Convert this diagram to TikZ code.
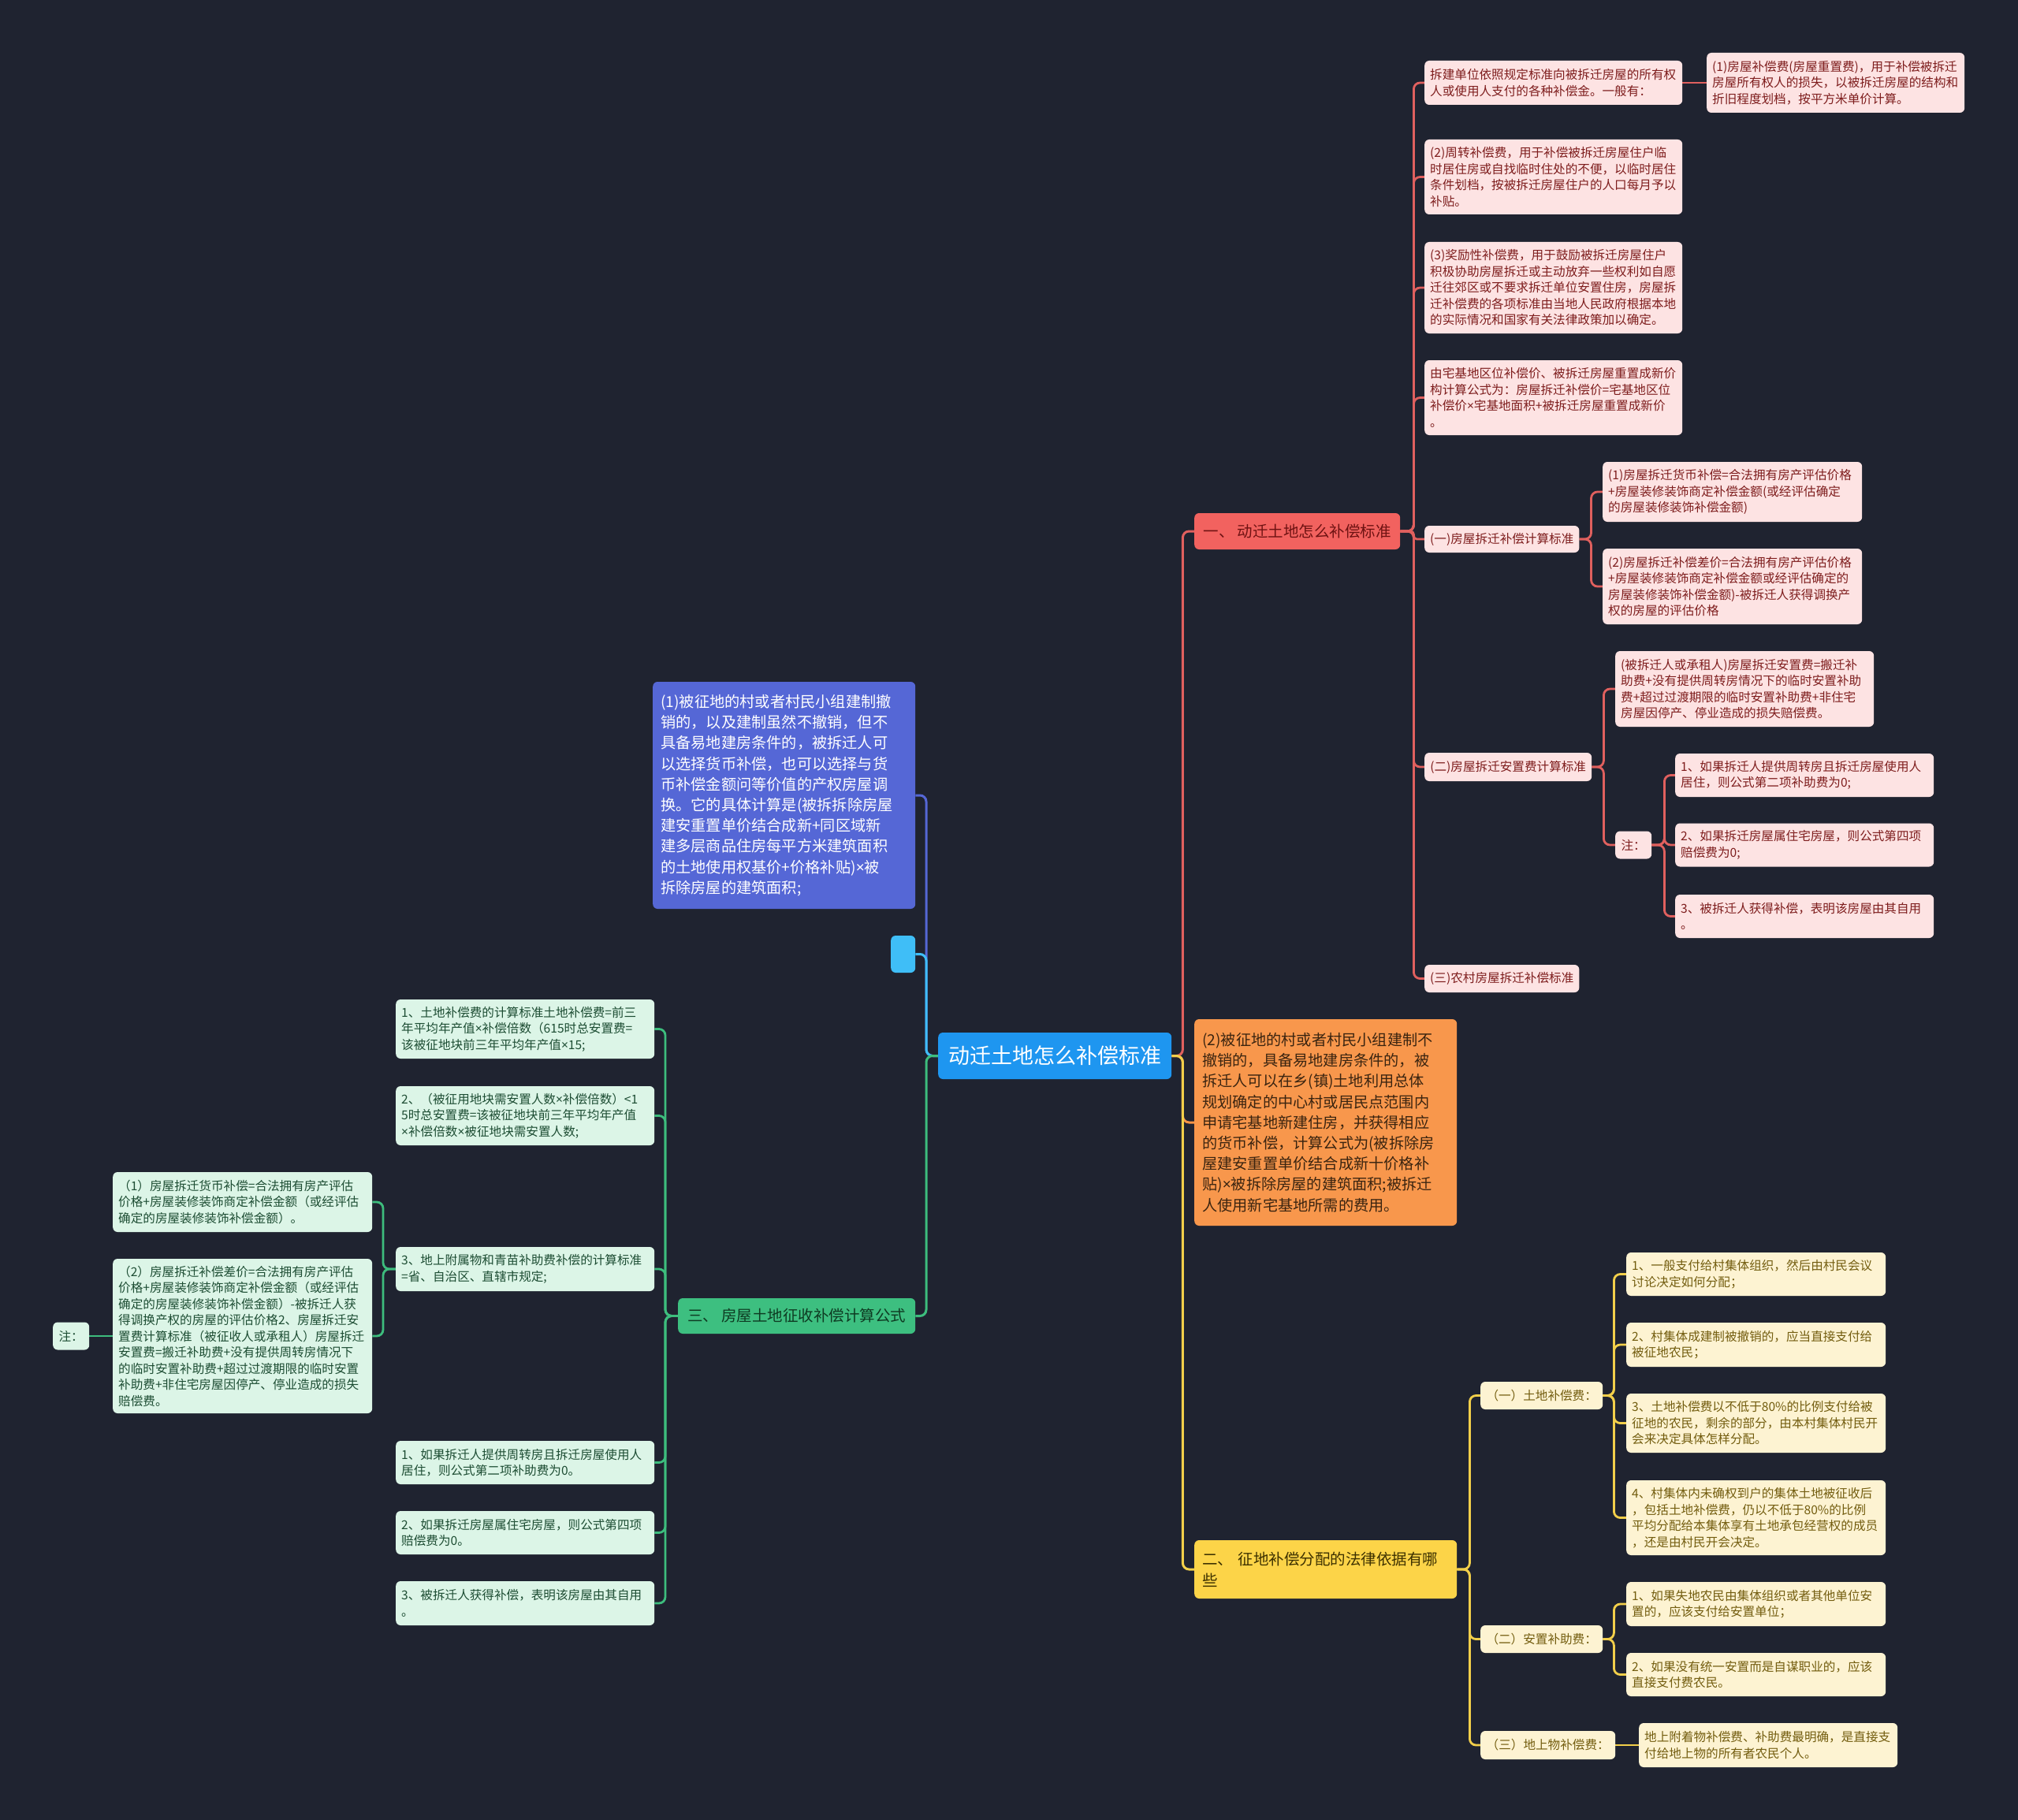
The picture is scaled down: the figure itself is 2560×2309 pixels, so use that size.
\documentclass[tikz,border=0pt]{standalone}
\usepackage{fontspec}
\setmainfont{Noto Sans CJK SC}
\newfontfamily\latinf{Noto Sans}
\newcommand{\tms}{{\latinf ×}}
\definecolor{bgc}{HTML}{1F2330}
\definecolor{rootfill}{HTML}{1E96F0}
\definecolor{redfill}{HTML}{F2625F}
\definecolor{redtext}{HTML}{6E1212}
\definecolor{cred}{HTML}{E0605E}
\definecolor{pkfill}{HTML}{FDE3E3}
\definecolor{pktext}{HTML}{7E1D1D}
\definecolor{orfill}{HTML}{F8974C}
\definecolor{ortext}{HTML}{3A2410}
\definecolor{corange}{HTML}{F79446}
\definecolor{yfill}{HTML}{FCD448}
\definecolor{ytext}{HTML}{3D3100}
\definecolor{cyellow}{HTML}{F2CF4A}
\definecolor{ylfill}{HTML}{FDF3D2}
\definecolor{yltext}{HTML}{735D0F}
\definecolor{bfill}{HTML}{5567D6}
\definecolor{cblue}{HTML}{5567D6}
\definecolor{cyfill}{HTML}{3FBEF7}
\definecolor{ccyan}{HTML}{3FBEF7}
\definecolor{gfill}{HTML}{3DBF80}
\definecolor{gtext}{HTML}{0E3B22}
\definecolor{cgreen}{HTML}{3DBD7D}
\definecolor{gnfill}{HTML}{DCF5E7}
\definecolor{gntext}{HTML}{1D4D33}
\newcommand{\fsSmall}{\fontsize{15.6}{20.5}\selectfont}
\newcommand{\fsMid}{\fontsize{19.2}{26.2}\selectfont}
\newcommand{\fsTitle}{\fontsize{19.5}{27}\selectfont}
\newcommand{\fsRoot}{\fontsize{27}{32}\selectfont}
\pgfdeclarelayer{bgl}
\pgfdeclarelayer{edges}
\pgfsetlayers{bgl,edges,main}
\tikzset{
  nd/.style={rounded corners=6pt, inner xsep=7pt, inner ysep=3pt, anchor=west, align=left},
  pk/.style={nd, fill=pkfill, text=pktext, font=\fsSmall},
  gn/.style={nd, fill=gnfill, text=gntext, font=\fsSmall},
  yl/.style={nd, fill=ylfill, text=yltext, font=\fsSmall},
  ln/.style={line width=2.8pt, rounded corners=8pt},
}
\begin{document}
\begin{tikzpicture}[x=1pt,y=-1pt]
\begin{pgfonlayer}{bgl}
\fill[bgc] (0,0) rectangle (2560,2309);
\end{pgfonlayer}
\useasboundingbox (0,0) rectangle (2560,2309);

% root
\node[nd, fill=rootfill, text=white, font=\fsRoot, align=center, minimum width=296pt, minimum height=59pt] (root) at (1190,1339.5) {动迁土地怎么补偿标准};

% right main branches
\node[nd, fill=redfill, text=redtext, font=\fsTitle, align=center, minimum width=261pt, minimum height=46pt] (R) at (1515,674) {一、 动迁土地怎么补偿标准};
\node[nd, fill=orfill, text=ortext, font=\fsMid, inner xsep=10pt, text width=313pt, minimum height=262pt] (O) at (1515,1424) {(2)被征地的村或者村民小组建制不\\撤销的，具备易地建房条件的，被\\拆迁人可以在乡(镇)土地利用总体\\规划确定的中心村或居民点范围内\\申请宅基地新建住房，并获得相应\\的货币补偿，计算公式为(被拆除房\\屋建安重置单价结合成新十价格补\\贴)\tms 被拆除房屋的建筑面积;被拆迁\\人使用新宅基地所需的费用。};
\node[nd, fill=yfill, text=ytext, font=\fsTitle, inner xsep=10pt, text width=313pt, minimum height=74pt] (Y) at (1515,1991) {二、 征地补偿分配的法律依据有哪\\些};

% left main branches
\node[nd, fill=bfill, text=white, font=\fsMid, inner xsep=10pt, text width=313pt, minimum height=288pt] (B) at (828,1009) {(1)被征地的村或者村民小组建制撤\\销的，以及建制虽然不撤销，但不\\具备易地建房条件的，被拆迁人可\\以选择货币补偿，也可以选择与货\\币补偿金额问等价值的产权房屋调\\换。它的具体计算是(被拆拆除房屋\\建安重置单价结合成新+同区域新\\建多层商品住房每平方米建筑面积\\的土地使用权基价+价格补贴)\tms 被\\拆除房屋的建筑面积;};
\node[nd, fill=cyfill, minimum width=31pt, minimum height=47pt, inner xsep=0pt] (C) at (1130,1210.5) {};
\node[nd, fill=gfill, text=gtext, font=\fsTitle, align=center, minimum width=301pt, minimum height=45pt] (G) at (860,1669.5) {三、 房屋土地征收补偿计算公式};

% red branch children
\node[pk, text width=313pt, minimum height=56pt] (A) at (1807,105) {拆建单位依照规定标准向被拆迁房屋的所有权\\人或使用人支付的各种补偿金。一般有：};
\node[pk, text width=313pt, minimum height=76pt] (A1) at (2165,105) {(1)房屋补偿费(房屋重置费)，用于补偿被拆迁\\房屋所有权人的损失，以被拆迁房屋的结构和\\折旧程度划档，按平方米单价计算。};
\node[pk, text width=313pt, minimum height=95pt] (P2) at (1807,224.5) {(2)周转补偿费，用于补偿被拆迁房屋住户临\\时居住房或自找临时住处的不便，以临时居住\\条件划档，按被拆迁房屋住户的人口每月予以\\补贴。};
\node[pk, text width=313pt, minimum height=116pt] (P3) at (1807,365) {(3)奖励性补偿费，用于鼓励被拆迁房屋住户\\积极协助房屋拆迁或主动放弃一些权利如自愿\\迁往郊区或不要求拆迁单位安置住房，房屋拆\\迁补偿费的各项标准由当地人民政府根据本地\\的实际情况和国家有关法律政策加以确定。};
\node[pk, text width=313pt, minimum height=95pt] (P4) at (1807,504.5) {由宅基地区位补偿价、被拆迁房屋重置成新价\\构计算公式为：房屋拆迁补偿价=宅基地区位\\补偿价\tms 宅基地面积+被拆迁房屋重置成新价\\。};
\node[pk, align=center, minimum width=196pt, minimum height=34pt] (E) at (1807,684) {(一)房屋拆迁补偿计算标准};
\node[pk, text width=315pt, minimum height=76pt] (E1) at (2033,624) {(1)房屋拆迁货币补偿=合法拥有房产评估价格\\+房屋装修装饰商定补偿金额(或经评估确定\\的房屋装修装饰补偿金额)};
\node[pk, text width=315pt, minimum height=96pt] (E2) at (2033,744) {(2)房屋拆迁补偿差价=合法拥有房产评估价格\\+房屋装修装饰商定补偿金额或经评估确定的\\房屋装修装饰补偿金额)-被拆迁人获得调换产\\权的房屋的评估价格};
\node[pk, align=center, minimum width=212pt, minimum height=36pt] (F) at (1807,973) {(二)房屋拆迁安置费计算标准};
\node[pk, text width=314pt, minimum height=96pt] (F1) at (2049,874) {(被拆迁人或承租人)房屋拆迁安置费=搬迁补\\助费+没有提供周转房情况下的临时安置补助\\费+超过过渡期限的临时安置补助费+非住宅\\房屋因停产、停业造成的损失赔偿费。};
\node[pk, align=center, minimum width=46pt, minimum height=35pt] (Gn) at (2049,1072) {注：};
\node[pk, text width=314pt, minimum height=55pt] (G1) at (2125,983.5) {1、如果拆迁人提供周转房且拆迁房屋使用人\\居住，则公式第二项补助费为0;};
\node[pk, text width=314pt, minimum height=55pt] (G2) at (2125,1072) {2、如果拆迁房屋属住宅房屋，则公式第四项\\赔偿费为0;};
\node[pk, text width=314pt, minimum height=55pt] (G3) at (2125,1162.5) {3、被拆迁人获得补偿，表明该房屋由其自用\\。};
\node[pk, align=center, minimum width=196pt, minimum height=35pt] (H) at (1807,1241.5) {(三)农村房屋拆迁补偿标准};

% green branch children
\node[gn, text width=314pt, minimum height=75pt] (L1) at (502,1305.5) {1、土地补偿费的计算标准土地补偿费=前三\\年平均年产值\tms 补偿倍数（615时总安置费=\\该被征地块前三年平均年产值\tms 15;};
\node[gn, text width=314pt, minimum height=75pt] (L2) at (502,1415.5) {2、（被征用地块需安置人数\tms 补偿倍数）<1\\5时总安置费=该被征地块前三年平均年产值\\\tms 补偿倍数\tms 被征地块需安置人数;};
\node[gn, text width=314pt, minimum height=56pt] (L3) at (502,1610) {3、地上附属物和青苗补助费补偿的计算标准\\=省、自治区、直辖市规定;};
\node[gn, text width=315pt, minimum height=76pt] (L3a) at (143,1525) {（1）房屋拆迁货币补偿=合法拥有房产评估\\价格+房屋装修装饰商定补偿金额（或经评估\\确定的房屋装修装饰补偿金额）。};
\node[gn, text width=315pt, minimum height=196pt] (L3b) at (143,1695) {（2）房屋拆迁补偿差价=合法拥有房产评估\\价格+房屋装修装饰商定补偿金额（或经评估\\确定的房屋装修装饰补偿金额）-被拆迁人获\\得调换产权的房屋的评估价格2、房屋拆迁安\\置费计算标准（被征收人或承租人）房屋拆迁\\安置费=搬迁补助费+没有提供周转房情况下\\的临时安置补助费+超过过渡期限的临时安置\\补助费+非住宅房屋因停产、停业造成的损失\\赔偿费。};
\node[gn, align=center, minimum width=46pt, minimum height=35pt] (Nt) at (67,1695) {注：};
\node[gn, text width=314pt, minimum height=55pt] (L4) at (502,1855.5) {1、如果拆迁人提供周转房且拆迁房屋使用人\\居住，则公式第二项补助费为0。};
\node[gn, text width=314pt, minimum height=55pt] (L5) at (502,1944.5) {2、如果拆迁房屋属住宅房屋，则公式第四项\\赔偿费为0。};
\node[gn, text width=314pt, minimum height=56pt] (L6) at (502,2034) {3、被拆迁人获得补偿，表明该房屋由其自用\\。};

% yellow branch children
\node[yl, align=center, minimum width=155pt, minimum height=35pt] (Y1) at (1878,1770.5) {（一）土地补偿费：};
\node[yl, text width=315pt, minimum height=55pt] (Y1a) at (2063,1616.5) {1、一般支付给村集体组织，然后由村民会议\\讨论决定如何分配；};
\node[yl, text width=315pt, minimum height=56pt] (Y1b) at (2063,1706) {2、村集体成建制被撤销的，应当直接支付给\\被征地农民；};
\node[yl, text width=315pt, minimum height=75pt] (Y1c) at (2063,1805.5) {3、土地补偿费以不低于80\%的比例支付给被\\征地的农民，剩余的部分，由本村集体村民开\\会来决定具体怎样分配。};
\node[yl, text width=315pt, minimum height=95pt] (Y1d) at (2063,1925.5) {4、村集体内未确权到户的集体土地被征收后\\，包括土地补偿费，仍以不低于80\%的比例\\平均分配给本集体享有土地承包经营权的成员\\，还是由村民开会决定。};
\node[yl, align=center, minimum width=155pt, minimum height=35pt] (Y2) at (1878,2079.5) {（二）安置补助费：};
\node[yl, text width=315pt, minimum height=56pt] (Y2a) at (2063,2035) {1、如果失地农民由集体组织或者其他单位安\\置的，应该支付给安置单位；};
\node[yl, text width=315pt, minimum height=55pt] (Y2b) at (2063,2124.5) {2、如果没有统一安置而是自谋职业的，应该\\直接支付费农民。};
\node[yl, align=center, minimum width=171pt, minimum height=36pt] (Y3) at (1878,2214) {（三）地上物补偿费：};
\node[yl, text width=314pt, minimum height=56pt] (Y3a) at (2079,2214) {地上附着物补偿费、补助费最明确，是直接支\\付给地上物的所有者农民个人。};

\begin{pgfonlayer}{edges}
% root right
\draw[ln, line width=3pt, cred] (root.east) -- ++(14,0) |- (R.west);
\draw[ln, line width=3pt, corange] (root.east) -- ++(14,0) |- (O.west);
\draw[ln, line width=3pt, cyellow] (root.east) -- ++(14,0) |- (Y.west);
% root left
\draw[ln, line width=3pt, cblue] (root.west) -- ++(-15,0) |- (B.east);
\draw[ln, line width=3pt, ccyan] (root.west) -- ++(-15,0) |- (C.east);
\draw[ln, line width=3pt, cgreen] (root.west) -- ++(-15,0) |- (G.east);
% red children
\foreach \c in {A,P2,P3,P4,F,H} \draw[ln, cred] (R.east) -- ++(17,0) |- (\c.west);
\draw[ln, cred, rounded corners=4pt] (R.east) -- ++(17,0) |- (E.west);
\draw[ln, cred] (A.east) -- (A1.west);
\foreach \c in {E1,E2} \draw[ln, cred] (E.east) -- ++(15,0) |- (\c.west);
\foreach \c in {F1,Gn} \draw[ln, cred] (F.east) -- ++(15,0) |- (\c.west);
\foreach \c in {G1,G2,G3} \draw[ln, cred] (Gn.east) -- ++(16,0) |- (\c.west);
% green children
\foreach \c in {L1,L2,L3,L4,L5,L6} \draw[ln, cgreen] (G.west) -- ++(-16,0) |- (\c.east);
\foreach \c in {L3a,L3b} \draw[ln, cgreen] (L3.west) -- ++(-16,0) |- (\c.east);
\draw[ln, cgreen] (L3b.west) -- (Nt.east);
% yellow children
\foreach \c in {Y1,Y2,Y3} \draw[ln, cyellow] (Y.east) -- ++(16,0) |- (\c.west);
\foreach \c in {Y1a,Y1b,Y1c,Y1d} \draw[ln, cyellow] (Y1.east) -- ++(14,0) |- (\c.west);
\foreach \c in {Y2a,Y2b} \draw[ln, cyellow] (Y2.east) -- ++(14,0) |- (\c.west);
\draw[ln, cyellow] (Y3.east) -- (Y3a.west);
\end{pgfonlayer}
\end{tikzpicture}
\end{document}
